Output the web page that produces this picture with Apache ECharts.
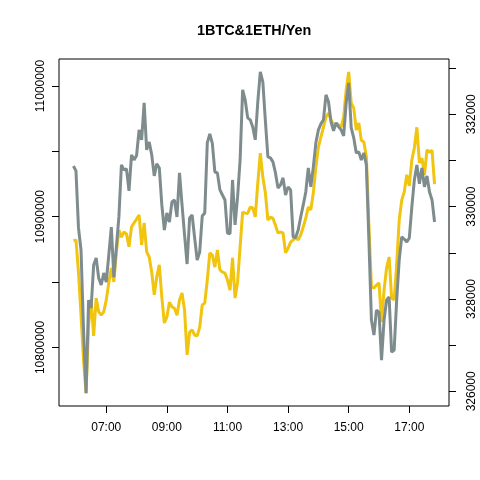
<!DOCTYPE html>
<html>
<head>
<meta charset="utf-8">
<script src="https://cdn.jsdelivr.net/npm/echarts@6/dist/echarts.min.js"></script>
<style>html,body{margin:0;padding:0;background:#fff}#chart{width:480px;height:480px}</style>
</head>
<body>
<div id="chart"></div>
<script>
const titleText = '1BTC&1ETH/Yen';
const startMinute = 355;   // 05:55
const stepMinutes = 5;

const grayValues = [
10938800,10935000,10891400,10874500,10813200,10765000,10836200,10830100,10863000,10868400,
10853100,10847700,10856900,10850000,10870700,10892100,10853800,10876800,10899800,10939600,
10935800,10936500,10919700,10947300,10943400,10946800,10966400,10958800,10987100,10951100,
10957200,10947300,10931200,10940400,10937300,10909000,10889800,10902800,10895900,10911300,
10912800,10899800,10933500,10909000,10886000,10863800,10899000,10901300,10883700,10866800,
10873000,10900500,10902800,10956500,10963400,10956000,10934200,10933500,10920500,10916600,
10912800,10887500,10887000,10928100,10893700,10915100,10943400,10997100,10989400,10975600,
10974100,10968700,10958800,10987900,11010800,11003200,10973500,10945700,10945000,10941900,
10933500,10922000,10924300,10929700,10916600,10922800,10920500,10884500,10884000,10889800,
10899800,10909000,10918900,10937300,10922800,10938100,10956500,10966400,10971000,10974100,
10993200,10987900,10972500,10965700,10971800,10968700,10966400,10961800,10987100,11002400,
10968000,10960300,10948800,10949600,10943400,10948800,10939600,10882200,10820900,10809400,
10828500,10827000,10790200,10820900,10836200,10838500,10796400,10797900,10836200,10866800,
10884500,10882900,10880600,10883700,10907400,10928100,10939600,10925100,10937300,10922800,
10931200,10918900,10912800,10895900
];

const yellowValues = [
329260,329280,328580,327650,326680,325960,327440,327980,327200,328020,
327720,327650,327720,327980,328350,328670,328370,329020,329490,329340,
329450,329410,329130,329560,329650,329730,329820,329170,329650,329020,
328910,328580,328090,328480,328740,328040,327480,327610,327930,327830,
327800,327650,327980,328130,327760,326790,327280,327330,327220,327200,
327390,327870,327910,328410,329000,328950,328690,329060,328630,328580,
328560,328410,328190,328890,328020,328370,329130,329880,329860,329850,
329990,329970,329780,330510,331160,330640,330300,329710,329770,329750,
329600,329430,329450,329430,329000,329100,329230,329280,329320,329280,
329390,329560,329750,329990,329930,330300,330860,331290,331510,331720,
331940,332030,331880,331770,331810,331770,331720,331940,332530,332920,
332240,332140,331660,331810,331440,331400,331080,329600,328260,328240,
328300,328350,327500,328190,328670,328910,328020,327980,328740,329710,
330140,330320,330690,330450,331010,331270,331720,330950,331050,330690,
331230,331180,331220,330490
];

const xTickMinutes = [420, 540, 660, 780, 900, 1020];
const leftTicks = [10800000, 10850000, 10900000, 10950000, 11000000];
const leftLabels = [10800000, 10900000, 11000000];
const rightTicks = [326000, 327000, 328000, 329000, 330000, 331000, 332000, 333000];
const rightLabels = [326000, 328000, 330000, 332000];

function padded(arr) {
  const mn = Math.min.apply(null, arr), mx = Math.max.apply(null, arr);
  const r = mx - mn;
  return [mn - 0.04 * r, mx + 0.04 * r];
}
const xs = grayValues.map((v, i) => startMinute + i * stepMinutes);
const xExt = padded(xs);
const lExt = padded(grayValues);
const rExt = padded(yellowValues);

const font = "'Liberation Sans', Arial, Helvetica, sans-serif";
const tickStyle = { lineStyle: { color: '#000', width: 1 } };

function hhmm(m) {
  const h = Math.floor(m / 60), mm = m % 60;
  return (h < 10 ? '0' : '') + h + ':' + (mm < 10 ? '0' : '') + mm;
}

const chart = echarts.init(document.getElementById('chart'), null, { renderer: 'canvas' });
chart.setOption({
  animation: false,
  backgroundColor: '#fff',
  title: {
    text: titleText,
    left: 197, top: 24, padding: 0,
    textStyle: { fontFamily: font, fontSize: 14.4, fontWeight: 'bold', color: '#000' }
  },
  grid: { left: 59, right: 31, top: 59, bottom: 74, show: true, borderColor: '#000', borderWidth: 1, backgroundColor: 'transparent' },
  xAxis: {
    type: 'value', min: xExt[0], max: xExt[1],
    axisLine: { show: false }, splitLine: { show: false },
    axisTick: Object.assign({ show: true, length: 7, customValues: xTickMinutes }, tickStyle),
    axisLabel: { customValues: xTickMinutes, formatter: v => hhmm(v), margin: 16, fontSize: 12, fontFamily: font, color: '#000' }
  },
  yAxis: [{
    type: 'value', position: 'left', min: lExt[0], max: lExt[1],
    axisLine: { show: false }, splitLine: { show: false },
    axisTick: Object.assign({ show: true, length: 7, customValues: leftTicks }, tickStyle),
    axisLabel: { customValues: leftLabels, rotate: 90, margin: 12, fontSize: 12, fontFamily: font, color: '#000', formatter: v => String(v) }
  }, {
    type: 'value', position: 'right', min: rExt[0], max: rExt[1],
    axisLine: { show: false }, splitLine: { show: false },
    axisTick: Object.assign({ show: true, length: 7, customValues: rightTicks }, tickStyle),
    axisLabel: { customValues: rightLabels, rotate: 90, margin: 17, fontSize: 12, fontFamily: font, color: '#000', formatter: v => String(v) }
  }],
  series: [{
    name: 'ETH', type: 'line', yAxisIndex: 1, showSymbol: false, symbol: 'none',
    data: yellowValues.map((v, i) => [xs[i], v]),
    lineStyle: { color: '#F1C40F', width: 3 }, z: 2
  }, {
    name: 'BTC', type: 'line', yAxisIndex: 0, showSymbol: false, symbol: 'none',
    data: grayValues.map((v, i) => [xs[i], v]),
    lineStyle: { color: '#7F8C8D', width: 3 }, z: 3
  }]
});
</script>
</body>
</html>
